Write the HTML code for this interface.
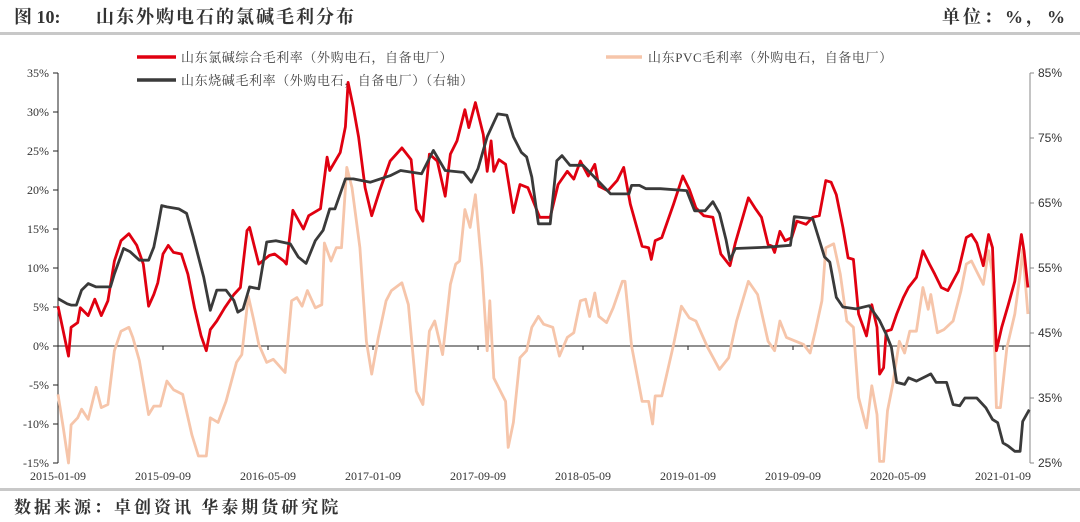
<!DOCTYPE html>
<html><head><meta charset="utf-8">
<style>
html,body{margin:0;padding:0;background:#fff;}
svg{display:block;font-family:"Liberation Serif","Noto Serif CJK SC","Noto Sans CJK SC",serif;}
</style></head>
<body>
<svg id="chart" width="1080" height="522" viewBox="0 0 1080 522" xmlns="http://www.w3.org/2000/svg">
<text x="14" y="23" font-size="18" font-weight="bold" fill="#333">图 10:</text>
<text x="96" y="23" font-size="18" font-weight="bold" fill="#333" letter-spacing="2">山东外购电石的氯碱毛利分布</text>
<text x="1068" y="23" font-size="18" font-weight="bold" fill="#333" text-anchor="end" letter-spacing="3">单位：%，%</text>
<rect x="0" y="32" width="1080" height="3" fill="#c8c8c8"/>
<rect x="0" y="488" width="1080" height="3" fill="#c8c8c8"/>
<text x="14" y="513" font-size="17" font-weight="bold" fill="#333" letter-spacing="3">数据来源：卓创资讯 华泰期货研究院</text>
<g id="legend">
<line x1="137" y1="57" x2="176" y2="57" stroke="#e00010" stroke-width="3.5"/>
<text x="181" y="62" font-size="13" fill="#444" letter-spacing="0.6">山东氯碱综合毛利率（外购电石，自备电厂）</text>
<line x1="137" y1="80" x2="176" y2="80" stroke="#3a3a3a" stroke-width="3.5"/>
<text x="181" y="85" font-size="13" fill="#444" letter-spacing="0.6">山东烧碱毛利率（外购电石，自备电厂）（右轴）</text>
<line x1="606" y1="57" x2="642" y2="57" stroke="#f6c5aa" stroke-width="3.5"/>
<text x="648" y="62" font-size="13" fill="#444" letter-spacing="0.6">山东PVC毛利率（外购电石，自备电厂）</text>
</g>
<g id="axes"></g>
<g id="series"></g>
</svg>
<script>
// months since 2015-01-09 (time axis) and values
const redMonths=[0,0.8,1.0,1.5,1.7,2.3,2.8,3.3,3.8,4.3,4.8,5.4,6.0,6.5,6.9,7.3,7.6,8.0,8.4,8.8,9.4,9.9,10.4,10.9,11.3,11.6,12.1,12.7,13.4,13.9,14.4,14.6,15.3,16.1,16.5,17.2,17.4,17.9,18.7,19.1,20.0,20.5,20.7,21.5,21.9,22.1,22.5,22.9,23.4,23.9,24.5,25.3,26.2,26.9,27.3,27.8,28.3,28.9,29.5,29.9,30.4,31.0,31.3,31.8,32.4,32.7,33.0,33.2,33.6,34.1,34.7,35.2,35.8,36.2,36.7,37.5,38.1,38.8,39.3,39.8,40.4,40.9,41.2,41.9,42.6,43.1,43.6,44.5,45.0,45.2,45.5,46.0,46.9,47.6,48.1,48.6,49.2,49.9,50.5,51.2,51.6,52.6,53.1,53.6,54.1,54.4,54.6,55.0,55.4,55.9,56.3,57.0,57.5,58.0,58.5,58.9,59.3,59.8,60.2,60.6,61.0,61.6,62.0,62.4,62.6,62.9,63.1,63.5,63.9,64.4,64.8,65.4,65.9,66.4,66.8,67.3,67.8,68.6,69.2,69.6,70.0,70.5,70.9,71.2,71.5,71.9,72.4,72.9,73.4,73.6,73.9];
const redValues=[5.1,-1.3,2.4,3.0,4.9,3.9,6.0,3.9,5.8,10.9,13.5,14.4,12.9,10.5,5.1,6.6,8.1,11.8,12.9,12.0,11.8,9.2,4.9,1.3,-0.6,2.1,3.2,4.9,6.6,7.5,14.8,15.2,10.5,11.6,11.8,10.9,10.5,17.4,15.0,16.7,17.6,24.2,22.5,24.8,28.1,33.8,30.6,26.8,20.3,16.7,19.9,23.7,25.4,23.9,17.5,16.0,24.6,23.7,19.2,24.6,26.3,30.3,28.0,31.2,27.1,22.4,26.3,22.4,23.9,23.3,17.1,20.7,20.3,18.6,16.5,16.5,20.7,22.4,21.4,23.7,21.8,23.3,20.5,19.9,21.2,22.9,18.2,12.8,12.6,11.1,13.5,13.9,18.2,21.8,20.1,17.7,16.7,16.5,11.8,10.3,13.2,19.0,17.7,16.5,13.0,12.8,12.0,14.7,13.5,13.9,16.0,15.6,16.5,16.7,21.2,21.0,19.4,15.2,11.3,11.1,4.1,1.3,5.3,2.4,-3.6,-2.8,1.9,2.1,4.1,6.2,7.5,8.8,12.2,10.5,9.2,7.5,7.1,9.6,13.9,14.3,13.2,10.3,14.3,12.6,-0.6,2.4,5.3,8.3,14.3,12.2,7.5];
const blackMonths=[0,0.7,1.0,1.4,1.8,2.3,2.9,4.0,4.3,5.0,5.5,6.2,6.9,7.3,7.6,7.9,8.3,9.2,9.8,10.3,11.1,11.6,12.1,12.8,13.4,13.7,14.1,14.6,15.3,15.9,16.6,17.7,18.3,18.9,19.6,20.2,20.7,21.1,21.9,22.5,23.8,25.3,26.1,27.7,28.6,29.5,30.9,31.5,32.0,32.7,33.5,34.2,34.7,35.3,35.7,36.1,36.6,37.5,38.0,38.4,39.0,40.0,41.0,42.1,43.5,43.7,44.3,44.8,45.9,47.9,48.5,49.3,49.9,50.4,50.9,51.2,51.6,54.0,55.8,56.1,57.5,58.4,58.8,59.3,59.8,60.8,61.8,62.6,63.1,63.5,63.9,64.5,64.8,65.4,66.2,66.5,66.9,67.7,68.2,68.7,69.1,70.0,70.7,71.2,71.6,72.0,72.4,72.9,73.3,73.5,74.0];
const blackValues=[50.3,49.5,49.3,49.3,51.6,52.6,52.1,52.1,54.1,58.0,57.5,56.2,56.2,58.2,61.3,64.6,64.4,64.1,63.4,59.8,53.6,48.5,51.6,51.6,50.0,48.2,48.7,52.1,51.8,59.0,59.2,58.7,56.7,55.7,59.2,60.8,64.1,64.1,68.7,68.7,68.2,69.2,70.0,69.5,73.1,70.0,69.7,68.2,70.3,75.2,78.7,78.5,75.2,72.8,72.1,69.0,61.8,61.8,71.5,72.3,70.8,70.8,68.7,66.4,66.4,67.7,67.7,67.2,67.2,66.9,63.8,63.8,65.2,63.4,59.3,56.2,58.0,58.2,58.5,62.9,62.6,56.7,55.9,50.5,49.0,48.7,49.2,46.9,44.8,42.8,37.4,37.1,38.1,37.6,38.4,38.7,37.4,37.4,34.0,33.8,35.0,35.0,33.5,31.7,31.2,28.1,27.6,26.8,26.8,31.4,33.2];
const pinkMonths=[0,0.4,0.8,1.0,1.5,1.8,2.3,2.9,3.3,3.8,4.3,4.8,5.4,5.7,6.2,6.9,7.3,7.8,8.3,8.8,9.5,10.2,10.7,11.3,11.6,12.2,12.8,13.6,14.0,14.5,14.9,15.3,15.9,16.4,17.3,17.8,18.2,18.6,19.0,19.6,20.1,20.3,20.8,21.2,21.6,22.0,22.4,23.0,23.5,23.9,24.4,25.0,25.4,26.2,26.7,27.3,27.8,28.3,28.7,29.3,29.9,30.3,30.6,31.0,31.4,31.8,32.3,32.7,32.9,33.2,34.1,34.3,34.7,35.2,35.7,36.1,36.6,37.0,37.7,38.2,38.8,39.3,39.8,40.2,40.5,40.9,41.2,41.8,42.3,43.0,43.2,43.7,44.5,45.0,45.3,45.5,46.0,46.9,47.5,48.1,48.6,49.5,50.4,51.1,51.7,52.6,53.3,54.1,54.6,55.0,55.5,56.8,57.3,57.7,58.2,58.5,59.1,59.6,60.1,60.6,61.0,61.6,62.0,62.4,62.6,62.9,63.2,63.6,64.1,64.5,64.9,65.4,65.9,66.3,66.5,67.0,67.5,68.2,68.8,69.2,69.6,70.1,70.5,70.9,71.2,71.5,71.8,72.3,72.9,73.3,73.5,73.9];
const pinkValues=[-6.2,-10.5,-15.0,-10.1,-9.2,-8.1,-9.4,-5.3,-7.9,-7.5,-0.6,1.9,2.4,1.1,-1.9,-8.8,-7.7,-7.7,-4.5,-5.6,-6.2,-11.4,-14.1,-14.1,-9.2,-9.8,-7.1,-2.1,-1.1,6.4,3.4,0.2,-2.1,-1.7,-3.4,5.8,6.2,5.1,7.1,4.9,5.3,13.2,10.9,12.6,12.6,22.9,20.3,12.6,0.6,-3.6,1.1,5.8,7.1,8.1,5.3,-5.8,-7.5,1.9,3.2,-1.1,7.9,10.5,10.9,17.5,15.2,19.4,10.0,-0.6,5.8,-4.1,-7.1,-13.0,-9.8,-1.5,-0.6,2.4,3.8,2.8,2.4,-1.3,1.1,1.7,5.8,6.0,3.8,6.8,3.8,3.0,4.9,8.3,8.3,0.0,-7.1,-7.1,-10.0,-6.4,-6.4,0.2,5.1,3.6,3.2,-0.2,-3.0,-1.5,3.2,8.3,6.6,0.6,-0.6,3.2,1.1,0.2,-0.9,1.9,5.8,12.6,13.1,9.2,3.2,2.4,-6.6,-10.5,-5.1,-8.8,-14.8,-14.8,-8.3,-4.9,0.6,-0.9,1.9,1.9,7.5,4.7,6.6,1.7,2.1,3.2,7.1,10.5,10.9,9.2,7.9,12.2,9.2,-7.9,-7.9,-0.2,4.1,9.2,12.4,4.1];
const leftTicks=[35,30,25,20,15,10,5,0,-5,-10,-15];
const rightTicks=[85,75,65,55,45,35,25];
const xTickMonths=[0,8,16,24,32,40,48,56,64,72];
const xTickLabels=["2015-01-09","2015-09-09","2016-05-09","2017-01-09","2017-09-09","2018-05-09","2019-01-09","2019-09-09","2020-05-09","2021-01-09"];

const NS="http://www.w3.org/2000/svg";
const X0=58,X1=1030,PX_PER_MONTH=13.125,YT=73,YB=463;
const xs=m=>X0+m*PX_PER_MONTH;
const yl=v=>YT+(35-v)/50*(YB-YT);
const yr=v=>YT+(85-v)/60*(YB-YT);
function mk(tag,attrs,parent){const e=document.createElementNS(NS,tag);for(const k in attrs)e.setAttribute(k,attrs[k]);parent.appendChild(e);return e;}
const axes=document.getElementById('axes');
const series=document.getElementById('series');

let el=mk('line',{x1:X0,y1:YT,x2:X0,y2:YB,stroke:'#222','stroke-width':1},axes);


el=mk('line',{x1:X1,y1:YT,x2:X1,y2:YB,stroke:'#888','stroke-width':1},axes);


el=mk('line',{x1:X0,y1:yl(0),x2:X1,y2:yl(0),stroke:'#222','stroke-width':1},axes);



leftTicks.forEach(v=>{
  const y=yl(v);
  const t=mk('line',{x1:X0-5,y1:y,x2:X0,y2:y,stroke:'#222','stroke-width':1},axes);
  
  
  const l=mk('text',{x:X0-9,y:y+4,'font-size':12,'text-anchor':'end',fill:'#333'},axes);
  l.textContent=v+'%';
  
  
});
rightTicks.forEach(v=>{
  const y=yr(v);
  const t=mk('line',{x1:X1,y1:y,x2:X1+4,y2:y,stroke:'#888','stroke-width':1},axes);
  
  
  const l=mk('text',{x:X1+8,y:y+4,'font-size':12,fill:'#333','font-family':'Liberation Sans, sans-serif'},axes);
  l.textContent=v+'%';
  
  
});
xTickMonths.forEach((m,i)=>{
  const x=xs(m);
  const t=mk('line',{x1:x,y1:yl(0),x2:x,y2:yl(0)+4,stroke:'#222','stroke-width':1},axes);
  
  
  const l=mk('text',{x:x,y:480,'font-size':12,'text-anchor':'middle',fill:'#333'},axes);
  l.textContent=xTickLabels[i];
  
  
});

function pathOf(ms,vs,yf){return ms.map((m,i)=>(i?'L':'M')+xs(m).toFixed(1)+','+yf(vs[i]).toFixed(1)).join(' ');}
let p=mk('path',{d:pathOf(pinkMonths,pinkValues,yl),fill:'none',stroke:'#f6c5aa','stroke-width':2.8,'stroke-linejoin':'round'},series);


p=mk('path',{d:pathOf(redMonths,redValues,yl),fill:'none',stroke:'#e00010','stroke-width':2.8,'stroke-linejoin':'round'},series);


p=mk('path',{d:pathOf(blackMonths,blackValues,yr),fill:'none',stroke:'#3a3a3a','stroke-width':2.8,'stroke-linejoin':'round'},series);


</script>
</body></html>
